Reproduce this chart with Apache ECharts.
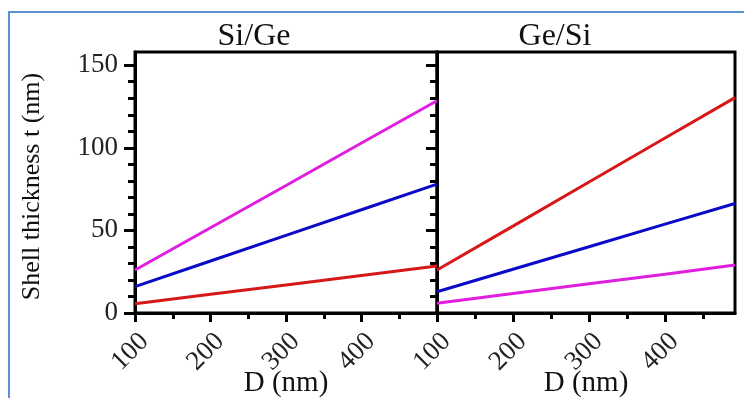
<!DOCTYPE html>
<html><head><meta charset="utf-8">
<script src="https://cdn.jsdelivr.net/npm/echarts@6/dist/echarts.min.js"></script>
<style>
html,body{margin:0;padding:0;background:#fff;}
#frame{position:absolute;left:8px;top:11px;width:740px;height:390px;border-left:2px solid #5b8fd6;border-top:2px solid #5b8fd6;}
#c{position:absolute;left:0;top:0;width:744px;height:398px;}
</style></head>
<body><div id="frame"></div><div id="c"></div>
<script>
const panelTitles = ['Si/Ge', 'Ge/Si'];
const D = [100, 200, 300, 400, 500];
const D2 = [100, 200, 300, 400, 492];
// Si/Ge panel
const siGeMagenta = [26, 51.6, 77.2, 102.9, 128.5];
const siGeBlue = [16, 31.5, 47, 62.5, 78];
const siGeRed = [5.6, 11.3, 17, 22.7, 28.4];
// Ge/Si panel
const geSiRed = [26, 52.6, 79.3, 105.9, 130.4];
const geSiBlue = [12.9, 26.5, 40.1, 53.8, 66.3];
const geSiMagenta = [5.9, 11.8, 17.7, 23.5, 29];
const yMajor = [0, 50, 100, 150];
const yMinor = [10, 20, 30, 40, 60, 70, 80, 90, 110, 120, 130, 140];
const xMajor = [100, 200, 300, 400];
const xMinor = [150, 250, 350, 450];

const FONT = 'Liberation Serif';
const C_MAG = '#e01ee0', C_BLUE = '#0a0ac8', C_RED = '#d81818';

const chart = echarts.init(document.getElementById('c'));
const pairs = (xs, ys) => xs.map((x, i) => [x, ys[i]]);

function xAx(gi, max, withName) {
  return [{
    type: 'value', gridIndex: gi, min: 100, max: max, position: 'bottom',
    name: withName ? 'D (nm)' : '', nameLocation: 'middle', nameGap: 56, nameMoveOverlap: false,
    nameTextStyle: {fontFamily: FONT, fontSize: 29, color: '#111'},
    axisLine: {show: true, onZero: false, lineStyle: {color: '#000', width: 3}},
    axisTick: {show: true, inside: false, length: 9, lineStyle: {color: '#000', width: 3}, customValues: xMajor},
    axisLabel: {show: true, rotate: 45, margin: 15, verticalAlign: 'top', fontFamily: FONT, fontSize: 27, color: '#222', customValues: xMajor},
    splitLine: {show: false}
  }, {
    type: 'value', gridIndex: gi, min: 100, max: max, position: 'bottom', offset: 0,
    axisLine: {show: false},
    axisTick: {show: true, inside: false, length: 6, lineStyle: {color: '#000', width: 3}, customValues: xMinor},
    axisLabel: {show: false, customValues: xMinor},
    splitLine: {show: false}
  }];
}
function yAx(gi, labels, withName) {
  return [{
    type: 'value', gridIndex: gi, min: 0, max: 158, position: 'left',
    name: withName ? 'Shell thickness t (nm)' : '', nameLocation: 'middle', nameGap: 90, nameMoveOverlap: false,
    nameTextStyle: {fontFamily: FONT, fontSize: 26, color: '#111', padding: [0, 0, 0, -8]},
    axisLine: {show: true, onZero: false, lineStyle: {color: '#000', width: 3}},
    axisTick: {show: true, inside: false, length: 11, lineStyle: {color: '#000', width: 3}, customValues: yMajor},
    axisLabel: {show: labels, margin: 17, fontFamily: FONT, fontSize: 27, color: '#222', customValues: yMajor},
    splitLine: {show: false}
  }, {
    type: 'value', gridIndex: gi, min: 0, max: 158, position: 'left', offset: 0,
    axisLine: {show: false},
    axisTick: {show: true, inside: false, length: 7, lineStyle: {color: '#000', width: 3}, customValues: yMinor},
    axisLabel: {show: false, customValues: yMinor},
    splitLine: {show: false}
  }];
}
const ln = (xi, yi, data, color) => ({
  type: 'line', xAxisIndex: xi, yAxisIndex: yi, data: data, symbol: 'none',
  lineStyle: {color: color, width: 3}, animation: false, z: 1
});

chart.setOption({
  animation: false,
  grid: [
    {left: 135, right: 307, top: 52, bottom: 85, outerBoundsMode: 'none', containLabel: false, show: true, borderColor: '#000', borderWidth: 3, backgroundColor: 'transparent'},
    {left: 437, right: 9, top: 52, bottom: 85, outerBoundsMode: 'none', containLabel: false, show: true, borderColor: '#000', borderWidth: 3, backgroundColor: 'transparent'}
  ],
  xAxis: [...xAx(0, 500, true), ...xAx(1, 492, true)],
  yAxis: [...yAx(0, true, true), ...yAx(1, false, false)],
  series: [
    ln(0, 0, pairs(D, siGeMagenta), C_MAG),
    ln(0, 0, pairs(D, siGeBlue), C_BLUE),
    ln(0, 0, pairs(D, siGeRed), C_RED),
    ln(2, 2, pairs(D2, geSiRed), C_RED),
    ln(2, 2, pairs(D2, geSiBlue), C_BLUE),
    ln(2, 2, pairs(D2, geSiMagenta), C_MAG)
  ],
  graphic: [
    {type: 'text', x: 254, y: 37, style: {text: panelTitles[0], fontFamily: FONT, fontSize: 32, fill: '#111', textAlign: 'center', textVerticalAlign: 'middle'}},
    {type: 'text', x: 555, y: 37, style: {text: panelTitles[1], fontFamily: FONT, fontSize: 32, fill: '#111', textAlign: 'center', textVerticalAlign: 'middle'}}
  ]
});
</script></body></html>
